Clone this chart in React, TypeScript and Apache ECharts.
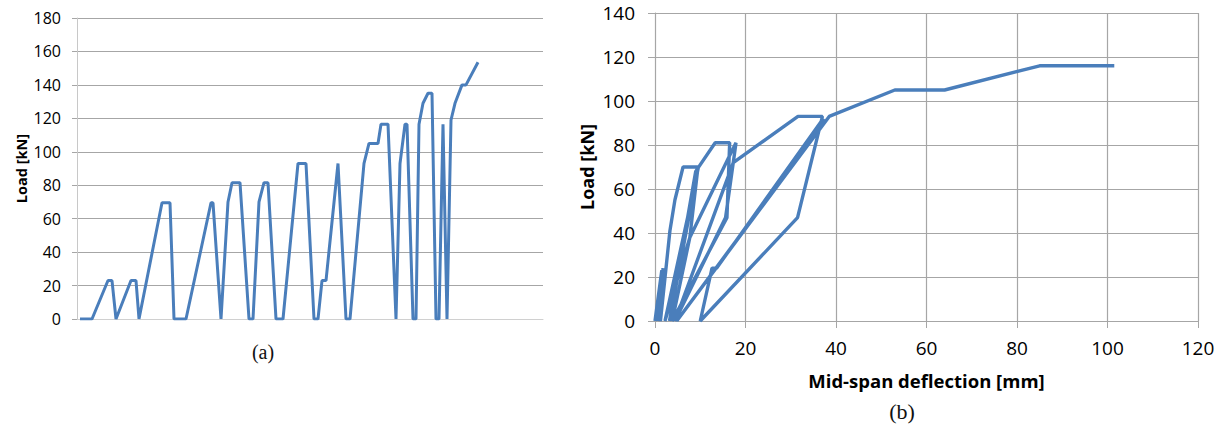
import React, { useEffect, useRef } from "react";
import * as echarts from "echarts";

// (a) load history: step (arbitrary time units) and load [kN]
const stepA = [3, 15, 31, 35, 39, 54, 59, 62, 85, 93, 97, 109, 134, 136, 144, 151, 155, 163, 172, 176, 182, 187, 191, 199, 206, 221, 229, 237, 241, 245, 249, 261, 269, 273, 287, 292, 301, 304, 311, 319, 323, 328, 330, 336, 339, 342, 346, 351, 355, 359, 362, 366, 370, 374, 378, 385, 389, 401];
const loadA = [0, 0, 23, 23, 0, 23, 23, 0, 69.5, 69.5, 0, 0, 69.5, 69.5, 0, 70, 81.5, 81.5, 0, 0, 70, 81.5, 81.5, 0, 0, 93, 93, 0, 0, 23, 23, 93, 0, 0, 93, 105, 105, 116.5, 116.5, 0, 93, 116.5, 116.5, 0, 0, 116.5, 129, 135, 135, 0, 0, 116.5, 0, 119, 129, 140, 140, 153.5];

// (b) load vs mid-span deflection
const deflB = [0, 1.5, 0.6, 1.8, 1.2, 3.3, 4.4, 6.2, 9.5, 7.7, 2.2, 8.8, 9.6, 9.2, 3.2, 9.0, 13.3, 16.5, 15.9, 3.8, 7.7, 16.2, 17.9, 17.3, 4.4, 15.6, 17.3, 31.6, 37, 31.5, 10, 12.6, 13.6, 37.2, 36.5, 4.8, 38.5, 53, 64, 85, 101.5];
const loadB = [0, 23, 0, 24, 0, 41, 55, 70, 70, 38, 0, 62, 70, 66, 0, 68, 81, 81, 47, 0, 38, 74, 81, 72, 0, 47, 72, 93, 93, 47, 0, 24, 24, 92, 88, 0, 93, 105, 105, 116, 116];

const yTicksA = { min: 0, max: 180, interval: 20 };
const yTicksB = { min: 0, max: 140, interval: 20 };
const xTicksB = { min: 0, max: 120, interval: 20 };

const LINE = "#4a7ebb";
const GRID = "#a6a6a6";
const FONT = "'Open Sans', sans-serif";
const TXT = "#000";

export default function App() {
  const ref = useRef<HTMLDivElement>(null);
  useEffect(() => {
    if (!ref.current) return;
    const chart = echarts.init(ref.current, null, { renderer: "svg" });
    chart.setOption({
      animation: false,
      backgroundColor: "#fff",
      grid: [
        { left: 77, top: 18, width: 466, height: 301 },
        { left: 655, top: 13, width: 543, height: 308 },
      ],
      xAxis: [
        {
          gridIndex: 0, type: "value", min: 0, max: 466,
          axisLine: { show: true, lineStyle: { color: "#d0d0d0", width: 1 } },
          axisTick: { show: false }, axisLabel: { show: false }, splitLine: { show: false },
        },
        {
          gridIndex: 1, type: "value", ...xTicksB,
          name: "Mid-span deflection [mm]", nameLocation: "middle", nameGap: 50,
          nameTextStyle: { fontFamily: FONT, fontWeight: "bold", fontSize: 18.5, color: TXT },
          axisLine: { show: true, onZero: false, lineStyle: { color: GRID } },
          axisTick: { show: true, length: 7, lineStyle: { color: GRID } },
          axisLabel: { margin: 17, fontFamily: FONT, fontSize: 19, color: TXT },
          splitLine: { show: true, lineStyle: { color: GRID, width: 1.2 } },
        },
      ],
      yAxis: [
        {
          gridIndex: 0, type: "value", ...yTicksA,
          name: "Load [kN]", nameLocation: "middle", nameGap: 48,
          nameTextStyle: { fontFamily: FONT, fontWeight: "bold", fontSize: 14.5, color: TXT },
          axisLine: { show: true, lineStyle: { color: "#c8c8c8" } },
          axisTick: { show: true, length: 5, lineStyle: { color: GRID } },
          axisLabel: { margin: 16, fontFamily: FONT, fontSize: 16, color: TXT },
          splitLine: { show: true, lineStyle: { color: GRID, width: 1.2 } },
        },
        {
          gridIndex: 1, type: "value", ...yTicksB,
          name: "Load [kN]", nameLocation: "middle", nameGap: 59,
          nameTextStyle: { fontFamily: FONT, fontWeight: "bold", fontSize: 18, color: TXT },
          axisLine: { show: true, lineStyle: { color: GRID } },
          axisTick: { show: true, length: 7, lineStyle: { color: GRID } },
          axisLabel: { margin: 20, fontFamily: FONT, fontSize: 19, color: TXT },
          splitLine: { show: true, lineStyle: { color: GRID, width: 1.2 } },
        },
      ],
      series: [
        {
          type: "line", xAxisIndex: 0, yAxisIndex: 0,
          data: stepA.map((s, i) => [s, loadA[i]]),
          showSymbol: false, lineStyle: { color: LINE, width: 3 },
        },
        {
          type: "line", xAxisIndex: 1, yAxisIndex: 1,
          data: deflB.map((d, i) => [d, loadB[i]]),
          showSymbol: false, lineStyle: { color: LINE, width: 3.4 },
        },
      ],
      graphic: [
        { type: "text", x: 263, y: 352, style: { text: "(a)", font: "20px 'Liberation Serif', serif", fill: "#111", align: "center", verticalAlign: "middle" } },
        { type: "text", x: 902, y: 411, style: { text: "(b)", font: "22px 'Liberation Serif', serif", fill: "#111", align: "center", verticalAlign: "middle" } },
      ],
    });
    return () => chart.dispose();
  }, []);
  return <div ref={ref} style={{ position: "fixed", left: 0, top: 0, width: 1226, height: 429 }} />;
}
